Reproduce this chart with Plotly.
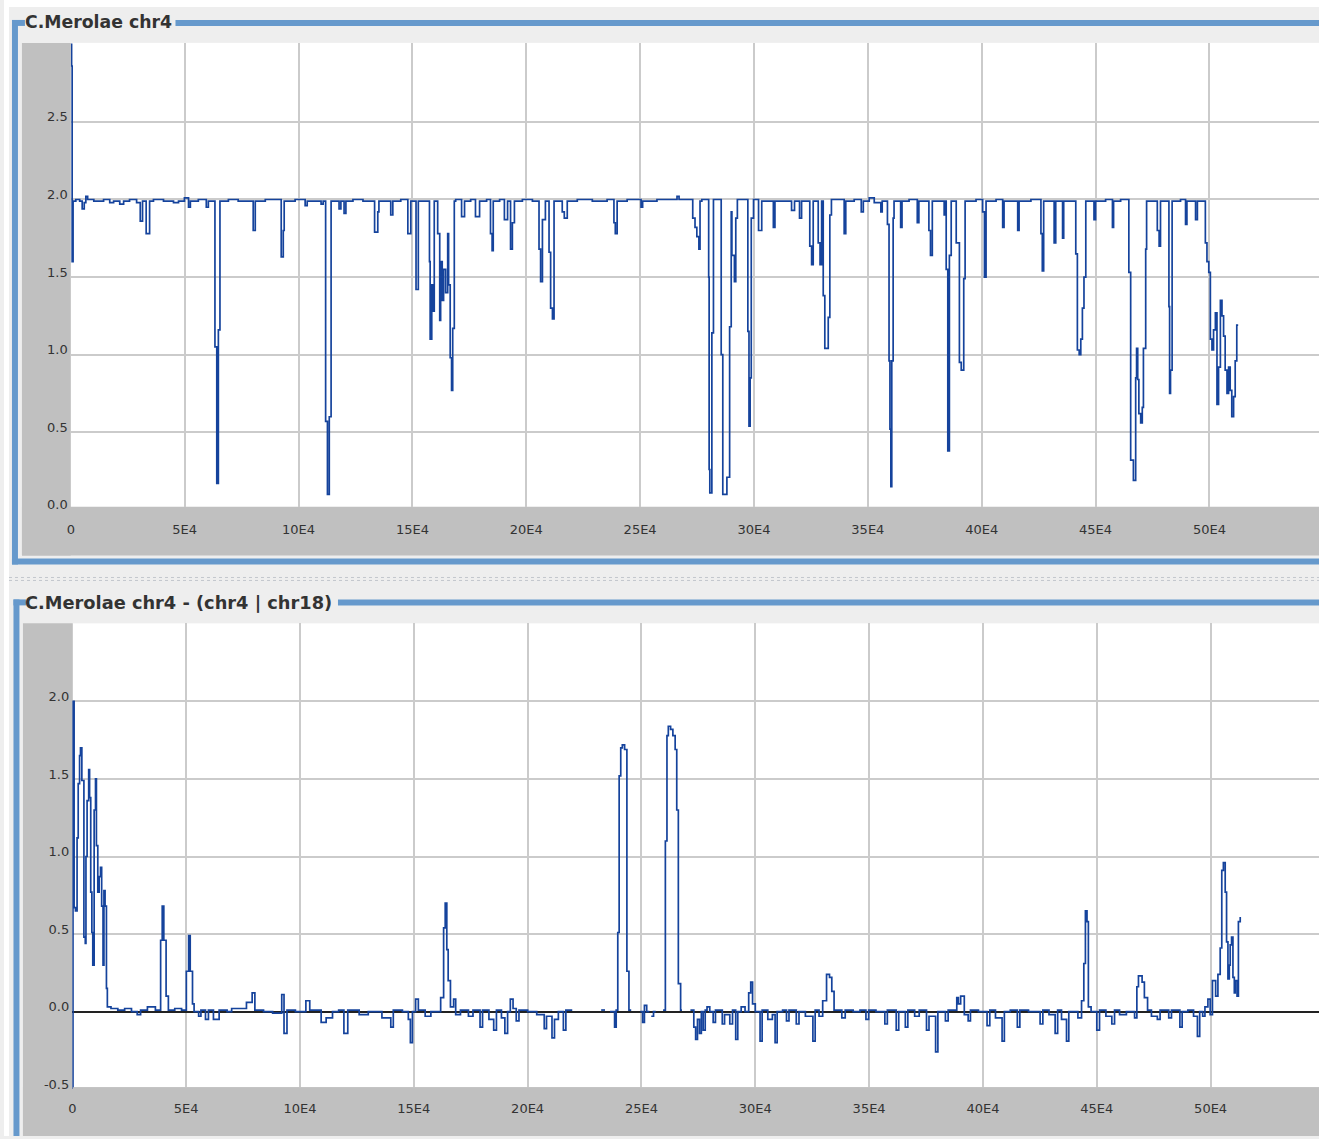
import plotly.graph_objects as go

W, H = 1319, 1139

top_title = "C.Merolae chr4"
bottom_title = "C.Merolae chr4 - (chr4 | chr18)"

x_tick_vals = [0, 50000, 100000, 150000, 200000, 250000, 300000, 350000, 400000, 450000, 500000]
x_tick_text = ["0", "5E4", "10E4", "15E4", "20E4", "25E4", "30E4", "35E4", "40E4", "45E4", "50E4"]
top_y_ticks = [0.0, 0.5, 1.0, 1.5, 2.0, 2.5]
bottom_y_ticks = [-0.5, 0.0, 0.5, 1.0, 1.5, 2.0]

# ---- top series (position in kb, value) ----
top_pos_kb = [
    0.0, 0.35, 0.6, 1.0, 2.2, 3.9, 5.0, 5.9, 6.6, 7.4,
    10.1, 14.4, 17.1, 18.8, 21.5, 23.2, 25.8, 28.9, 30.5, 31.5,
    33.1, 34.6, 36.3, 40.7, 45.1, 47.3, 49.9, 51.7, 52.5, 56.0,
    59.5, 60.4, 63.3, 64.1, 64.8, 65.5, 69.2, 73.5, 80.1, 81.0,
    85.4, 92.4, 93.3, 93.7, 98.5, 102.9, 103.8, 109.9, 110.8, 111.9,
    112.7, 113.5, 114.3, 117.8, 118.6, 120.0, 120.8, 123.9, 128.3, 133.4,
    134.8, 135.3, 140.5, 141.4, 144.9, 148.0, 149.3, 151.6, 152.6, 157.5,
    157.8, 158.5, 158.9, 159.6, 161.1, 162.0, 162.4, 163.1, 163.7, 164.6,
    165.5, 165.9, 166.6, 167.2, 167.7, 168.4, 169.0, 171.6, 172.9, 175.6,
    177.7, 179.5, 182.6, 184.3, 185.0, 185.5, 188.3, 190.4, 191.8, 193.1,
    193.9, 194.8, 198.3, 202.7, 205.6, 206.3, 207.1, 208.4, 210.0, 210.7,
    211.5, 212.2, 215.8, 216.7, 218.0, 222.4, 229.0, 235.5, 238.5, 239.1,
    239.9, 244.3, 250.4, 251.1, 257.4, 266.2, 267.1, 273.1, 274.1, 274.9,
    275.8, 276.3, 277.1, 280.1, 280.3, 280.6, 281.5, 282.2, 285.6, 286.3,
    288.1, 289.3, 290.0, 290.3, 291.4, 292.0, 292.7, 297.3, 297.8, 298.3,
    298.8, 299.8, 302.0, 303.4, 308.5, 309.2, 316.5, 317.8, 320.0, 320.9,
    324.5, 325.3, 326.0, 328.2, 329.0, 329.7, 330.4, 331.1, 332.6, 333.3,
    334.0, 339.6, 340.3, 344.0, 347.1, 348.0, 350.6, 352.8, 355.7, 356.3,
    358.6, 359.3, 359.7, 360.1, 360.5, 361.1, 361.5, 364.4, 365.0, 368.1,
    371.7, 372.4, 376.8, 377.5, 378.3, 383.5, 383.9, 384.4, 385.1, 385.8,
    386.6, 388.8, 390.2, 391.0, 392.1, 392.7, 397.5, 400.4, 401.2, 401.9,
    406.3, 409.2, 409.8, 415.8, 416.4, 421.6, 426.0, 426.6, 427.2, 431.8,
    432.5, 435.5, 436.0, 441.3, 442.0, 442.8, 443.5, 444.2, 444.9, 445.7,
    449.3, 450.0, 454.4, 457.4, 457.9, 461.0, 464.6, 465.4, 466.6, 467.6,
    468.0, 468.5, 469.0, 469.8, 470.5, 471.0, 472.0, 472.4, 477.1, 477.9,
    478.5, 482.2, 482.5, 482.9, 483.6, 487.3, 489.5, 490.1, 493.9, 494.7,
    498.2, 498.9, 499.7, 500.4, 501.1, 501.8, 502.6, 503.3, 504.0, 504.8,
    505.5, 506.2, 506.9, 507.7, 508.4, 509.1, 509.8, 510.6, 511.3, 512.0,
    512.6,
]
top_val = [
    3.00, 2.86, 1.60, 1.99, 2.00, 1.99, 1.94, 1.98, 2.02, 2.00,
    1.99, 2.00, 1.98, 1.99, 1.97, 1.99, 2.00, 1.98, 1.86, 1.99,
    1.78, 1.99, 2.00, 1.99, 1.98, 1.99, 2.01, 1.95, 1.99, 2.00,
    1.95, 1.99, 1.05, 0.17, 1.16, 1.99, 2.00, 1.99, 1.80, 1.99,
    2.00, 1.63, 1.80, 1.99, 2.00, 1.96, 1.99, 1.97, 1.99, 0.57,
    0.10, 0.60, 1.99, 1.94, 1.99, 1.91, 1.99, 2.00, 1.99, 1.79,
    1.92, 1.99, 1.90, 1.99, 2.00, 1.78, 1.99, 1.42, 1.99, 1.60,
    1.10, 1.45, 1.28, 1.99, 1.78, 1.22, 1.60, 1.35, 1.55, 1.40,
    1.78, 1.45, 0.98, 0.77, 1.17, 1.99, 2.00, 1.89, 1.99, 2.00,
    1.89, 1.99, 2.00, 1.78, 1.67, 1.99, 2.00, 1.87, 1.99, 1.68,
    1.85, 1.99, 2.00, 1.99, 1.68, 1.47, 1.87, 1.99, 1.66, 1.30,
    1.23, 1.99, 1.92, 1.88, 1.99, 2.00, 1.99, 2.00, 1.85, 1.78,
    1.99, 2.00, 1.95, 1.99, 2.00, 2.02, 2.00, 1.88, 1.82, 1.76,
    1.68, 1.99, 2.00, 1.50, 0.26, 0.11, 1.14, 2.00, 1.00, 0.10,
    0.21, 1.18, 1.92, 1.64, 1.47, 1.88, 2.00, 1.15, 0.54, 0.85,
    1.88, 2.00, 1.80, 1.99, 1.82, 1.99, 1.93, 1.99, 1.88, 1.99,
    1.70, 1.58, 1.99, 1.72, 1.58, 1.99, 1.38, 1.04, 1.24, 1.90,
    2.00, 1.78, 1.99, 2.00, 1.92, 1.99, 2.01, 1.98, 1.92, 1.99,
    1.84, 0.96, 0.52, 0.15, 0.96, 1.88, 1.99, 1.82, 1.99, 2.00,
    1.85, 1.99, 1.80, 1.64, 1.99, 1.90, 1.99, 1.55, 0.38, 1.64,
    1.99, 1.72, 0.95, 0.90, 1.49, 1.99, 2.00, 1.92, 1.50, 1.99,
    2.00, 1.82, 1.99, 1.80, 1.99, 2.00, 1.78, 1.54, 1.99, 1.72,
    1.99, 1.75, 1.99, 1.65, 1.03, 1.00, 1.10, 1.30, 1.50, 1.99,
    1.87, 1.99, 2.00, 1.82, 1.99, 2.00, 1.53, 0.32, 0.19, 0.85,
    1.04, 0.84, 0.62, 0.56, 0.66, 1.04, 1.68, 1.99, 1.80, 1.70,
    1.99, 1.31, 0.75, 0.90, 1.99, 2.00, 1.84, 1.99, 1.87, 1.99,
    1.72, 1.60, 1.53, 1.10, 1.03, 1.16, 1.27, 0.68, 0.92, 1.35,
    1.25, 1.12, 0.90, 0.75, 0.92, 0.77, 0.60, 0.73, 0.96, 1.19,
    1.19,
]

# ---- bottom series (position in kb, value; None = no data) ----
bottom_pos_kb = [
    0.0, 0.3, 0.8, 1.4, 2.1, 2.6, 3.2, 3.6, 4.2, 5.1,
    5.7, 6.0, 6.5, 7.2, 7.6, 8.1, 8.6, 9.0, 9.6, 10.2,
    10.6, 11.2, 11.8, 12.4, 12.9, 13.5, 13.9, 14.4, 15.0, 15.4,
    17.0, 20.0, 23.0, 26.0, 28.5, 30.0, 33.0, 35.0, 36.5, 38.8,
    39.5, 40.2, 41.2, 42.2, 45.0, 48.0, 50.1, 51.1, 51.8, 52.8,
    53.5, 55.5, 56.5, 58.5, 59.8, 62.0, 64.5, 68.0, 70.0, 76.5,
    78.0, 79.0, 80.2, 84.0, 88.0, 92.0, 93.0, 94.3, 98.0, 102.6,
    104.3, 109.3, 111.5, 114.3, 117.0, 119.3, 121.0, 126.0, 130.0, 136.0,
    139.9, 141.0, 145.0, 147.6, 148.5, 149.4, 150.8, 152.0, 155.0, 157.5,
    161.8, 163.1, 163.8, 164.5, 165.1, 166.1, 167.5, 168.4, 170.5, 174.0,
    176.0, 179.1, 180.2, 183.0, 185.1, 186.3, 188.5, 190.0, 191.2, 192.4,
    193.6, 195.0, 196.2, 200.0, 204.0, 207.3, 208.3, 210.7, 211.8, 213.5,
    215.7, 216.8, 219.6, 219.7, 232.3, 234.0, 234.1, 236.2, 238.2, 238.9,
    239.6, 240.2, 240.9, 241.6, 242.6, 243.6, 244.5, 245.5, 245.6, 249.5,
    250.5, 251.3, 252.3, 253.5, 253.6, 254.3, 255.3, 256.3, 256.4, 259.5,
    260.5, 261.2, 261.8, 262.8, 263.8, 264.8, 265.5, 266.2, 267.2, 267.8,
    267.9, 271.5, 273.0, 273.8, 274.6, 275.5, 276.3, 277.1, 278.0, 278.8,
    280.0, 281.5, 282.5, 285.5, 286.5, 288.8, 290.0, 291.4, 292.3, 293.8,
    295.5, 297.1, 298.0, 298.8, 300.0, 302.1, 303.0, 305.5, 307.5, 308.7,
    309.6, 312.0, 313.7, 314.8, 318.0, 319.2, 322.0, 325.3, 326.3, 328.0,
    329.6, 331.3, 332.6, 333.6, 334.6, 338.0, 339.5, 343.0, 346.0, 348.6,
    349.8, 353.0, 356.9, 358.0, 361.9, 363.0, 365.9, 367.0, 370.0, 372.0,
    375.2, 376.3, 379.2, 380.2, 383.5, 384.7, 388.5, 389.2, 390.2, 391.8,
    393.5, 394.5, 398.0, 401.8, 403.0, 405.5, 408.4, 409.4, 412.0, 415.1,
    416.2, 420.0, 425.1, 426.3, 429.0, 431.7, 432.8, 434.5, 436.7, 437.7,
    441.7, 443.3, 444.3, 445.0, 445.7, 446.3, 447.5, 450.0, 451.2, 454.0,
    456.6, 457.8, 460.0, 463.0, 466.6, 467.6, 468.3, 469.9, 470.9, 472.3,
    474.0, 476.6, 477.8, 481.6, 482.8, 486.5, 487.5, 490.0, 492.5, 494.2,
    495.2, 496.5, 497.5, 498.8, 499.8, 500.8, 502.2, 503.2, 504.2, 504.9,
    505.6, 506.4, 507.0, 507.6, 508.2, 508.6, 509.2, 509.8, 510.4, 510.8,
    511.6, 512.2, 513.0,
]
bottom_val = [
    -0.60, 2.00, 0.67, 0.65, 1.12, 1.47, 1.65, 1.70, 1.49, 0.48,
    0.44, 1.00, 1.36, 1.56, 1.38, 0.77, 0.51, 0.30, 1.30, 1.50,
    1.07, 0.77, 0.87, 0.93, 0.68, 0.30, 0.78, 0.68, 0.15, 0.03,
    0.02, 0.01, 0.02, 0.00, -0.02, 0.01, 0.03, 0.03, 0.01, 0.46,
    0.68, 0.46, 0.10, 0.01, 0.02, 0.01, 0.26, 0.49, 0.26, 0.05,
    0.00, -0.03, 0.01, -0.05, 0.01, -0.05, 0.01, 0.00, 0.02, 0.06,
    0.06, 0.12, 0.01, 0.00, -0.01, 0.11, -0.14, 0.01, 0.00, 0.07,
    0.01, -0.07, -0.04, 0.00, 0.01, -0.14, 0.01, -0.02, 0.00, -0.04,
    -0.10, 0.01, 0.00, -0.05, -0.20, 0.00, 0.08, 0.01, -0.03, 0.00,
    0.09, 0.54, 0.70, 0.40, 0.20, 0.03, 0.08, -0.02, 0.01, -0.03,
    0.01, -0.10, 0.01, -0.05, -0.12, 0.01, -0.04, -0.14, 0.00, 0.08,
    0.02, -0.06, 0.01, 0.00, -0.02, -0.11, -0.03, -0.17, -0.05, 0.00,
    -0.12, 0.01, 0.01, None, 0.01, 0.01, None, 0.00, -0.10, 0.01,
    0.51, 1.52, 1.70, 1.72, 1.69, 0.26, 0.01, 0.01, None, 0.00,
    -0.07, 0.04, 0.00, 0.00, None, -0.03, 0.00, 0.00, None, 0.01,
    1.10, 1.78, 1.84, 1.82, 1.78, 1.69, 1.30, 0.18, 0.01, 0.01,
    None, 0.01, -0.10, -0.18, -0.05, -0.14, 0.00, -0.12, 0.01, 0.03,
    0.00, -0.07, 0.01, -0.08, -0.02, -0.08, 0.01, -0.18, 0.00, 0.03,
    0.00, 0.12, 0.19, 0.05, 0.00, -0.19, 0.01, -0.05, -0.02, -0.20,
    0.00, 0.01, -0.06, 0.01, -0.08, 0.00, -0.03, -0.19, 0.01, -0.03,
    0.07, 0.24, 0.22, 0.13, 0.01, -0.04, 0.01, 0.00, 0.01, -0.05,
    0.01, 0.00, -0.08, 0.01, -0.12, 0.00, -0.10, 0.01, -0.03, 0.01,
    -0.12, -0.03, -0.26, 0.00, -0.06, 0.01, 0.09, 0.05, 0.10, -0.02,
    -0.06, 0.01, 0.00, -0.09, 0.01, -0.04, -0.19, 0.00, 0.01, -0.10,
    0.01, 0.00, -0.08, 0.01, -0.02, -0.14, 0.01, -0.05, -0.19, 0.00,
    -0.04, 0.07, 0.31, 0.65, 0.58, 0.03, 0.00, -0.12, 0.01, -0.03,
    -0.08, 0.01, -0.02, 0.00, -0.04, 0.16, 0.23, 0.19, 0.09, 0.01,
    -0.03, -0.05, 0.01, -0.04, 0.01, -0.10, 0.00, 0.01, -0.03, -0.16,
    0.00, -0.03, 0.03, 0.08, -0.02, 0.20, 0.10, 0.24, 0.41, 0.91,
    0.96, 0.77, 0.45, 0.21, 0.30, 0.43, 0.48, 0.22, 0.12, 0.20,
    0.10, 0.58, 0.61,
]

assert len(top_pos_kb) == len(top_val)
assert len(bottom_pos_kb) == len(bottom_val)

top_x = [k * 1000 for k in top_pos_kb]
bottom_x = [k * 1000 for k in bottom_pos_kb]

# ---- style ----
LINE_COLOR = "#15439c"
GRID = "#cbcbcb"
PANEL_GRAY = "#c0c0c0"
BG = "#eeeeee"
BORDER = "#6699cc"
TEXT = "#333333"
FONT = "DejaVu Sans"


def px(x):
    return x / W


def py(y):
    return 1 - y / H


fig = go.Figure()
fig.add_trace(go.Scatter(x=top_x, y=top_val, mode="lines", line=dict(color=LINE_COLOR, width=1.7, shape="hv"),
                         xaxis="x", yaxis="y", hoverinfo="skip", showlegend=False))
fig.add_trace(go.Scatter(x=bottom_x, y=bottom_val, mode="lines", line=dict(color=LINE_COLOR, width=1.7, shape="hv"),
                         connectgaps=False, xaxis="x2", yaxis="y2", hoverinfo="skip", showlegend=False))

tickfont = dict(family=FONT, size=13, color=TEXT)

xcommon = dict(tickmode="array", tickvals=x_tick_vals, ticktext=x_tick_text, showgrid=True, gridcolor=GRID,
               gridwidth=1.5, zeroline=False, showline=False, ticks="", tickfont=tickfont, ticklabelstandoff=10,
               fixedrange=True)
ycommon = dict(tickmode="array", showgrid=True, gridcolor=GRID, gridwidth=1.5, showline=False, ticks="",
               tickfont=tickfont, ticklabelshift=-5, ticklabelstandoff=2, fixedrange=True)

shapes = []


def rect(x0, y0, x1, y1, color, layer="below"):
    shapes.append(dict(type="rect", xref="paper", yref="paper", x0=px(x0), x1=px(x1), y0=py(y1), y1=py(y0),
                       fillcolor=color, line=dict(width=0), layer=layer))


# white outer margins
rect(0, 0, W, 7, "#ffffff")
rect(0, 0, 5, H, "#ffffff")
# top panel gray margins
rect(18, 43, 67, 557, PANEL_GRAY)
rect(18, 508, W, 557, PANEL_GRAY)
rect(67, 508.3, W, 512, PANEL_GRAY, layer="above")
# bottom panel gray margins
rect(19, 625, 69, H, PANEL_GRAY)
rect(19, 1090, W, H, PANEL_GRAY)
rect(69, 1090.2, W, 1093, PANEL_GRAY, layer="above")
# top panel border
rect(8, 20, 14, 566, BORDER)
rect(8, 20, 21, 26, BORDER)
rect(172, 20, W, 26, BORDER)
rect(8, 560, W, 566, BORDER)
# bottom panel border
rect(9.5, 601, 15.5, H, BORDER)
rect(9.5, 601, 22, 607, BORDER)
rect(335, 601, W, 607, BORDER)
# split-pane divider dots
for yy in (579, 582):
    shapes.append(dict(type="line", xref="paper", yref="paper", x0=px(5), x1=px(W), y0=py(yy), y1=py(yy),
                       line=dict(color="#c2c6cc", width=1, dash="dot"), layer="below"))

annotations = [
    dict(text="<b>" + top_title + "</b>", xref="paper", yref="paper", x=px(19), y=py(22.5), xanchor="left",
         yanchor="middle", showarrow=False, font=dict(family=FONT, size=17.3, color=TEXT)),
    dict(text="<b>" + bottom_title + "</b>", xref="paper", yref="paper", x=px(19), y=py(604), xanchor="left",
         yanchor="middle", showarrow=False, font=dict(family=FONT, size=17.8, color=TEXT)),
]

fig.update_layout(
    width=W, height=H, margin=dict(l=0, r=0, t=0, b=0, pad=0),
    paper_bgcolor=BG, plot_bgcolor="#ffffff", showlegend=False,
    xaxis=dict(domain=[px(67), 1], range=[0, 548100], anchor="y", **xcommon),
    yaxis=dict(domain=[py(511.2), py(43)], range=[0, 3.009], tickvals=top_y_ticks,
               ticktext=["%.1f" % v for v in top_y_ticks], zeroline=False, anchor="x", **ycommon),
    xaxis2=dict(domain=[px(68.5), 1], range=[0, 547600], anchor="y2", **xcommon),
    yaxis2=dict(domain=[py(1092), py(625)], range=[-0.5, 2.5035], tickvals=bottom_y_ticks,
                ticktext=["%.1f" % v for v in bottom_y_ticks], zeroline=True, zerolinecolor="#222222",
                zerolinewidth=1.5, anchor="x2", **ycommon),
    shapes=shapes, annotations=annotations,
)

fig.write_html("out.html", config={"displayModeBar": False},
               post_script="document.body.style.margin='0px';document.body.style.overflow='hidden';")
